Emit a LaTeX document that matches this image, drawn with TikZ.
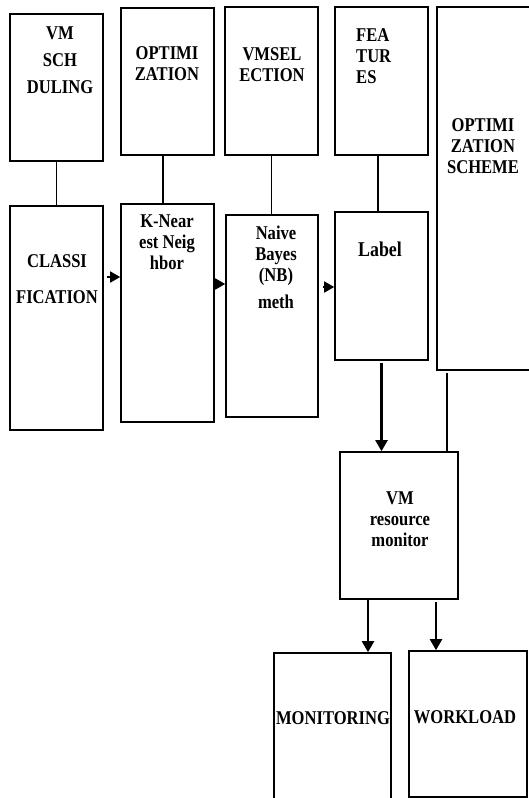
\documentclass[tikz,border=0pt]{standalone}
\usepackage{fontspec}
\setmainfont[FakeStretch=0.85]{Liberation Serif}
\usetikzlibrary{arrows.meta,positioning}

\begin{document}
\begin{tikzpicture}[
  x=1pt, y=-1pt,
  box/.style={draw, line width=1.6pt, inner sep=0pt},
  txt/.style={font=\fontsize{19.5}{21}\selectfont\bfseries, align=center, inner sep=0pt},
  link/.style={draw, line width=1.6pt},
  small tip/.style={line width=1.6pt, -{Triangle[length=10pt,width=11pt]}},
  big tip/.style={line width=2.2pt, -{Triangle[length=11pt,width=12pt]}}
]
  \useasboundingbox (0,0) rectangle (528,798);

  % Top row of boxes
  \node[box, minimum width=93pt, minimum height=147pt] (vmsch)  at (56.5,87.5) {};
  \node[box, minimum width=93pt, minimum height=147pt] (opt)    at (167.5,81.5) {};
  \node[box, minimum width=93pt, minimum height=148pt] (vmsel)  at (271.5,81) {};
  \node[box, minimum width=93pt, minimum height=148pt] (feat)   at (381.5,81) {};
  \node[box, minimum width=98pt, minimum height=363pt] (optsch) at (486,188.5) {};

  % Second row of boxes
  \node[box, minimum width=93pt, minimum height=224pt] (classif) at (56.5,318) {};
  \node[box, minimum width=93pt, minimum height=218pt] (knn)     at (167.5,313) {};
  \node[box, minimum width=92pt, minimum height=202pt] (nb)      at (272,316) {};
  \node[box, minimum width=93pt, minimum height=148pt] (label)   at (381.5,286) {};

  % Monitor and its outputs
  \node[box, minimum width=118pt, minimum height=147pt] (vmres) at (399,525.5) {};
  \node[box, minimum width=117pt, minimum height=157pt] (mon)   at (332.5,731.5) {};
  \node[box, minimum width=118pt, minimum height=146pt] (work)  at (468,724) {};

  % Texts
  \node[txt] (vmschT)   at (60,60)     {VM\\[6pt]SCH\\[6pt]DULING};
  \node[txt] (optT)     at (167,63.5)  {OPTIMI\\ZATION};
  \node[txt] (vmselT)   at (272,64.5)  {VMSEL\\ECTION};
  \node[txt, align=left, anchor=west] (featT) at (356,56.5) {FEA\\TUR\\ES};
  \node[txt] (optschT)  at (483,146)   {OPTIMI\\ZATION\\SCHEME};
  \node[txt] (classifT) at (57,279)    {CLASSI\\[15pt]FICATION};
  \node[txt] (knnT)     at (167,242)   {K-Near\\est Neig\\hbor};
  \node[txt] (nbT)      at (276,267.5) {Naive\\Bayes\\(NB)\\[6pt]meth};
  \node[txt, font=\fontsize{21}{21}\selectfont\bfseries] (labelT) at (380,249) {Label};
  \node[txt] (vmresT)   at (400,519)   {VM\\resource\\monitor};
  \node[txt] (monT)     at (333,718)   {MONITORING};
  \node[txt] (workT)    at (465,717)   {WORKLOAD};

  % Vertical links between the rows
  \draw[link] (vmsch.south) -- (classif.north);
  \draw[link] ([xshift=-4.5pt]opt.south) -- ([xshift=-4.5pt]opt.south |- knn.north);
  \draw[link] (vmsel.south) -- (vmsel.south |- nb.north);
  \draw[link] ([xshift=-3.5pt]feat.south) -- ([xshift=-3.5pt]feat.south |- label.north);

  % Chain of the second row
  \coordinate (a1) at (107,277);
  \coordinate (a2) at (217,284);
  \coordinate (a3) at (323,287);
  \draw[small tip] (a1) -- (a1 -| knn.west);
  \draw[small tip] (a2) -- (a2 -| nb.west);
  \draw[small tip] (a3) -- (a3 -| label.west);

  % Into the monitor
  \draw[big tip, shorten <=2pt] (label.south) -- (label.south |- vmres.north);
  \coordinate (os) at (447,373);
  \draw[link] (os) -- (os |- vmres.north);

  % Monitor outputs
  \coordinate (m1) at (368,600);
  \coordinate (w1) at (436,602);
  \draw[big tip] (m1) -- (m1 |- mon.north);
  \draw[big tip] (w1) -- (w1 |- work.north);

\end{tikzpicture}
\end{document}
